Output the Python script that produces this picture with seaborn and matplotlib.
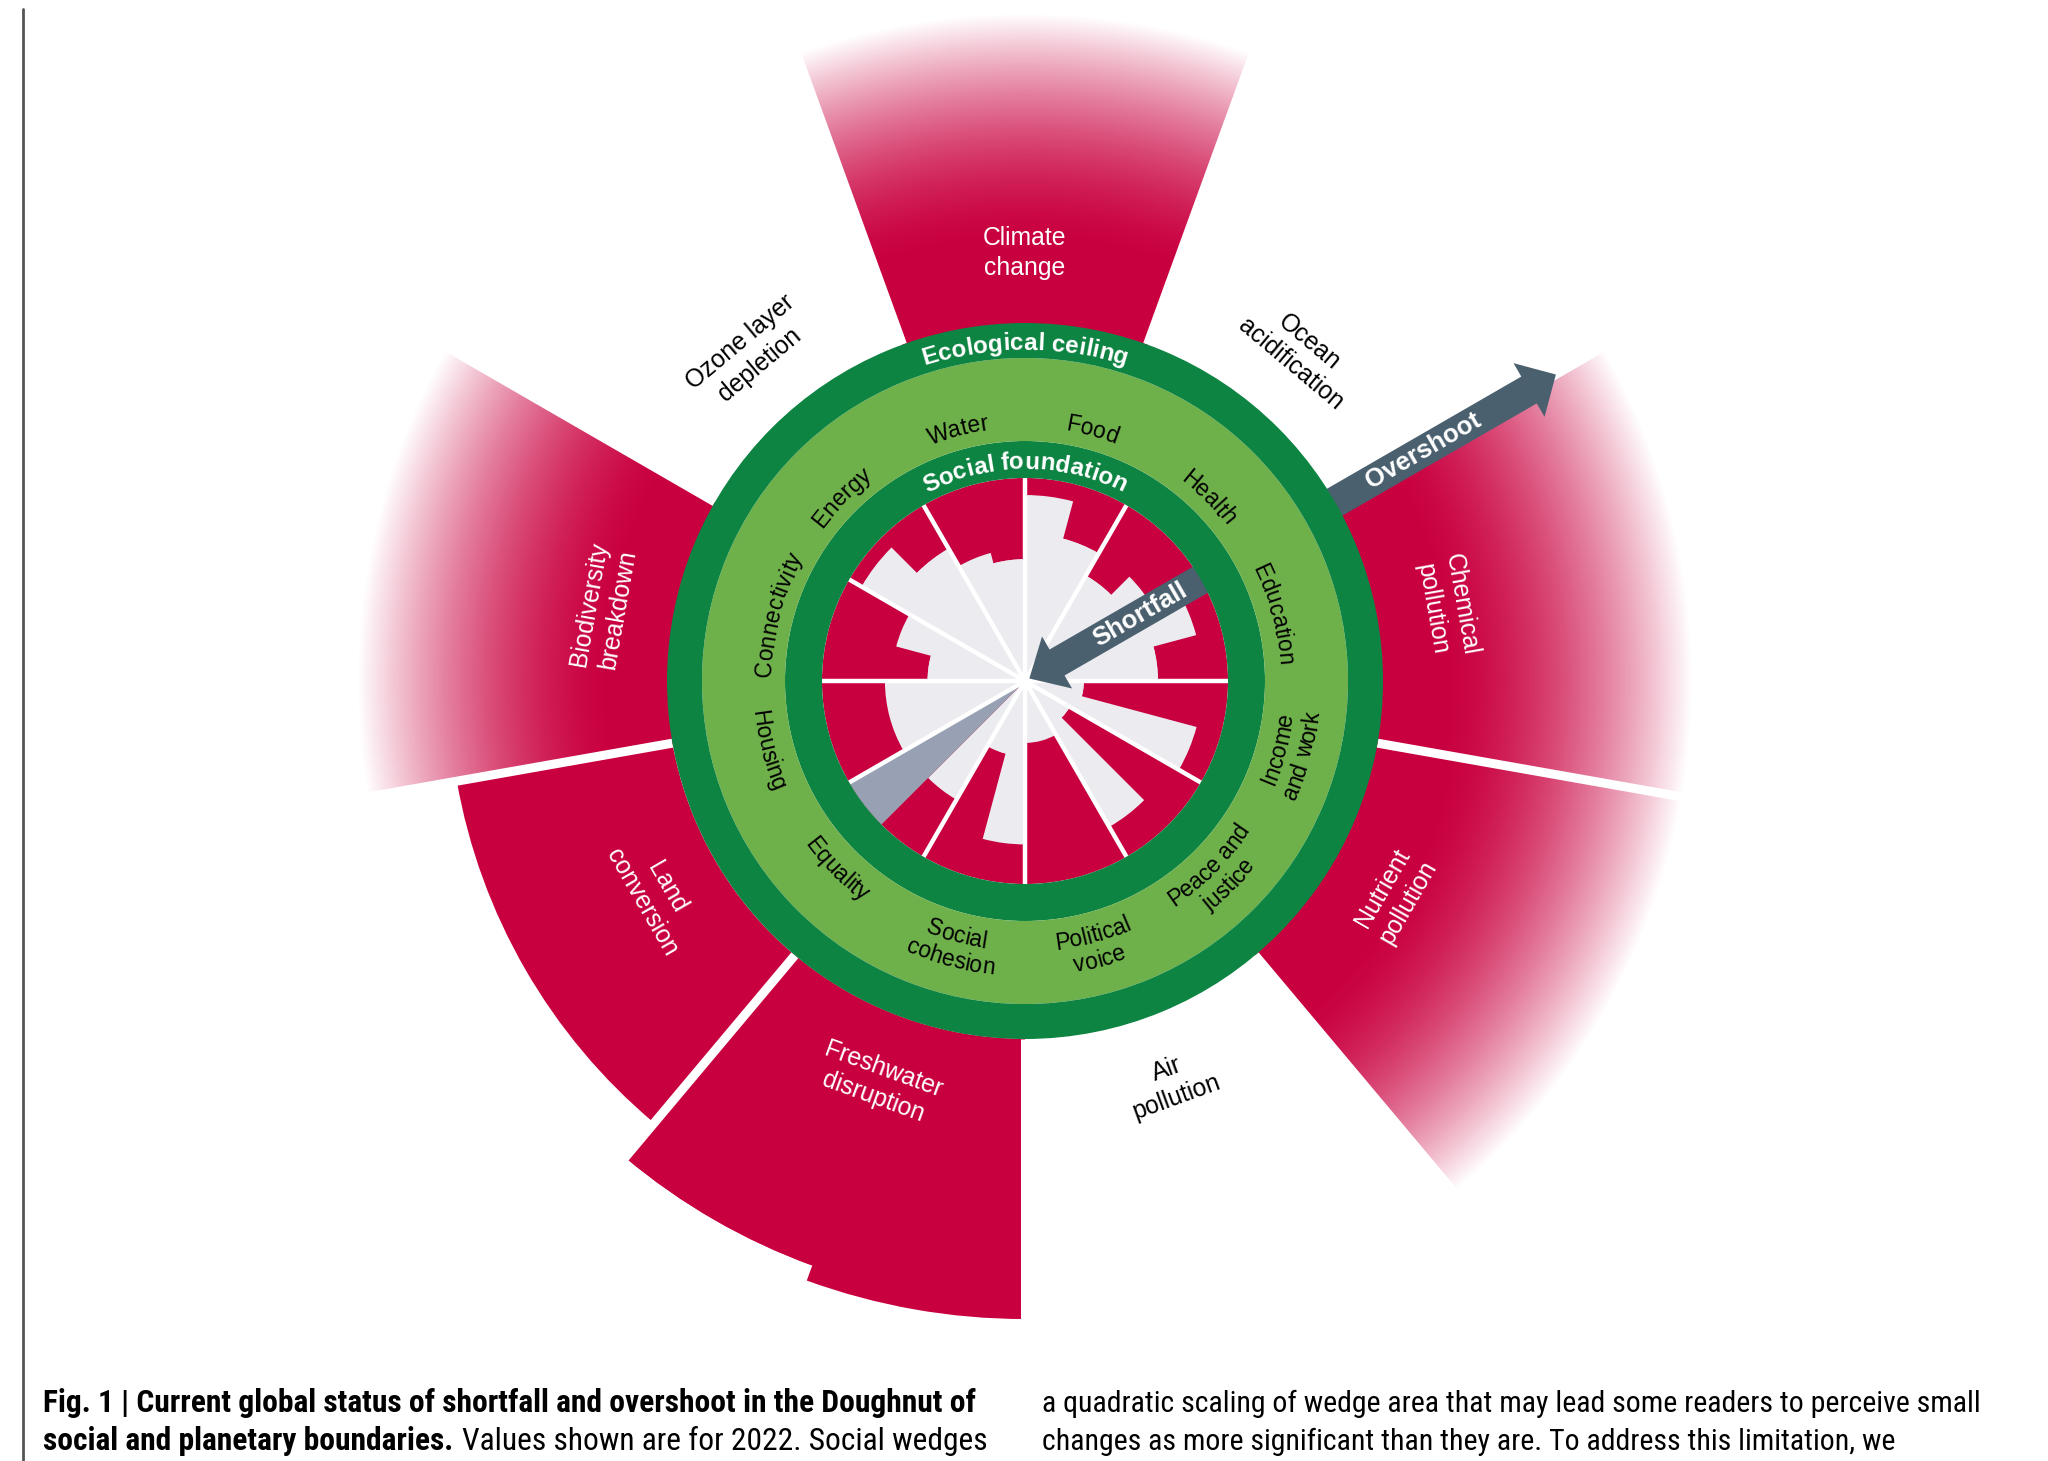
import numpy as np
import matplotlib
matplotlib.use("Agg")
import matplotlib.pyplot as plt
import seaborn as sns
from matplotlib.font_manager import FontProperties, findfont
from matplotlib.textpath import TextToPath
from matplotlib.patches import FancyArrow
from matplotlib.transforms import IdentityTransform
from matplotlib.lines import Line2D

# ---------------- data ----------------
social_dimensions = ["Food", "Health", "Education", "Income\nand work", "Peace and\njustice",
                     "Political\nvoice", "Social\ncohesion", "Equality", "Housing",
                     "Connectivity", "Energy", "Water"]
# achieved share of the social foundation per indicator (clockwise, NaN = no data)
social_achieved = [[0.916, 0.726], [0.600, 0.727], [0.873, 0.655], [0.290, 0.875],
                   [0.255, 0.830], [0.305], [0.805, 0.370], [0.675, np.nan], [0.690],
                   [0.480, 0.657], [0.930, 0.753], [0.653, 0.600]]

planetary_boundaries = ["Climate\nchange", "Ocean\nacidification", "Chemical\npollution",
                        "Nutrient\npollution", "Air\npollution", "Freshwater\ndisruption",
                        "Land\nconversion", "Biodiversity\nbreakdown", "Ozone layer\ndepletion"]
# outer radius of overshoot wedges (doughnut radius units, social foundation = 1)
overshoot_extent = [[2.17], [0.0], [2.07], [2.12], [0.0], [3.143, 3.064], [2.842], [2.05], [0.0]]
beyond_scale = [True, False, True, True, False, False, False, True, False]

caption_left = ["Fig. 1 | Current global status of shortfall and overshoot in the Doughnut of",
                "social and planetary boundaries.", " Values shown are for 2022. Social wedges"]
caption_right = ["a quadratic scaling of wedge area that may lead some readers to perceive small",
                 "changes as more significant than they are. To address this limitation, we"]

# ---------------- style ----------------
sns.set_theme(style="white")
FONT = "Liberation Sans"
plt.rcParams["font.family"] = [FONT, "DejaVu Sans"]

RED = "#c9003f"
GREY = "#ebebf0"
NODATA = "#98a1b3"
DARK_GREEN = "#0e8442"
LIGHT_GREEN = "#6eb04a"
ARROW = "#4b606f"

SOCIAL_FOUNDATION = 1.0
SF_RING_OUT = 240 / 203
CEILING_IN = 323 / 203
CEILING_OUT = 358 / 203
FADE_END = 668 / 203

DPI = 100
W, H = 2048, 1461
UNIT = 203.0
CX, CY = 1025, H - 681
RL = 680

fig = plt.figure(figsize=(W / DPI, H / DPI), dpi=DPI)
fig.patch.set_facecolor("white")
ax = fig.add_axes([(CX - RL) / W, (CY - RL) / H, 2 * RL / W, 2 * RL / H], projection="polar")
ax.set_theta_zero_location("N")
ax.set_theta_direction(-1)
ax.set_ylim(0, RL / UNIT)
ax.set_axis_off()

d2r = np.deg2rad
fade_pal = sns.blend_palette([RED, "#ffffff"], n_colors=256)

# ---------------- planetary overshoot ----------------
for k, (vals, off) in enumerate(zip(overshoot_extent, beyond_scale)):
    n = len(vals)
    w = 40.0 / n
    vmin = min(vals)
    if n > 1 and vmin > CEILING_OUT and not off:
        ax.bar(d2r(k * 40), vmin - CEILING_OUT, width=d2r(40), bottom=CEILING_OUT, color=RED, lw=0, zorder=1)
    for j, v in enumerate(vals):
        if v <= CEILING_OUT:
            continue
        c = d2r(k * 40 - 20 + w * (j + 0.5))
        if off:
            rs = np.linspace(FADE_END, v, 150)
            for r in rs:
                t = ((r - v) / (FADE_END - v)) ** 1.6
                col = fade_pal[int(round(t * 255))]
                ax.bar(c, r - CEILING_OUT, width=d2r(w), bottom=CEILING_OUT, color=col, lw=0, zorder=1)
        else:
            ax.bar(c, v - CEILING_OUT, width=d2r(w), bottom=CEILING_OUT, color=RED, lw=0, zorder=1)

for b in range(9):
    th = d2r(20 + 40 * b)
    ax.plot([th, th], [CEILING_OUT, RL / UNIT], color="white", lw=6.5, solid_capstyle="butt", zorder=1.5)

# ---------------- social shortfall ----------------
for i, vals in enumerate(social_achieved):
    start = i * 30
    ax.bar(d2r(start + 15), SOCIAL_FOUNDATION, width=d2r(30), bottom=0, color=RED, lw=0, zorder=1)
    n = len(vals)
    w = 30.0 / n
    finite = [v for v in vals if not np.isnan(v)]
    if n > 1 and len(finite) == n:
        ax.bar(d2r(start + 15), min(finite), width=d2r(30), bottom=0, color=GREY, lw=0, zorder=1)
    for j, v in enumerate(vals):
        c = d2r(start + w * (j + 0.5))
        if np.isnan(v):
            ax.bar(c, SOCIAL_FOUNDATION, width=d2r(w), bottom=0, color=NODATA, lw=0, zorder=1)
        else:
            ax.bar(c, v, width=d2r(w), bottom=0, color=GREY, lw=0, zorder=1)

for i in range(12):
    th = d2r(i * 30)
    ax.plot([th, th], [0, SOCIAL_FOUNDATION], color="white", lw=3.2, solid_capstyle="butt", zorder=1.5)

# ---------------- arrows (pixel geometry from polar position) ----------------
PHI_ARROW = 60.0
ux, uy = np.sin(d2r(PHI_ARROW)), np.cos(d2r(PHI_ARROW))


def radial_arrow(r0, r1, width, head_w, head_l):
    x0, y0 = CX + r0 * ux, CY + r0 * uy
    x1, y1 = CX + r1 * ux, CY + r1 * uy
    a = FancyArrow(x0, y0, x1 - x0, y1 - y0, width=width, head_width=head_w, head_length=head_l,
                   length_includes_head=True, color=ARROW, lw=0, transform=IdentityTransform(), zorder=2)
    ax.add_patch(a)


radial_arrow(340, 613, 31, 62, 31)
radial_arrow(215, 5, 30, 60, 32)

# ---------------- rings ----------------
ax.bar(0, SF_RING_OUT - SOCIAL_FOUNDATION, width=2 * np.pi, bottom=SOCIAL_FOUNDATION, color=DARK_GREEN, lw=0, zorder=3)
ax.bar(0, CEILING_IN - SF_RING_OUT, width=2 * np.pi, bottom=SF_RING_OUT, color=LIGHT_GREEN, lw=0, zorder=3)
ax.bar(0, CEILING_OUT - CEILING_IN, width=2 * np.pi, bottom=CEILING_IN, color=DARK_GREEN, lw=0, zorder=3)

th60 = d2r(PHI_ARROW)
ax.text(th60, 460 / UNIT, "Overshoot", rotation=90 - PHI_ARROW, rotation_mode="anchor", ha="center", va="center",
        fontsize=18.5, fontweight="bold", color="white", family=FONT, zorder=6)
ax.text(th60, 133 / UNIT, "Shortfall", rotation=90 - PHI_ARROW, rotation_mode="anchor", ha="center", va="center",
        fontsize=18.5, fontweight="bold", color="white", family=FONT, zorder=6)

# ---------------- curved text ----------------
ttp = TextToPath()


def wpx(s, prop):
    w, h, d = ttp.get_text_width_height_descent(s, prop, ismath=False)
    return w * DPI / 72.0


def curved(s, phi0, r_mid, size, weight="normal", color="black", outward=True):
    prop = FontProperties(family=FONT, weight=weight, size=size)
    em = size * DPI / 72.0
    total = wpx(s, prop)
    if outward:
        rb = r_mid - 0.36 * em
        sign = 1
    else:
        rb = r_mid + 0.36 * em
        sign = -1
    for i, ch in enumerate(s):
        if ch == " ":
            continue
        cpos = wpx(s[:i + 1], prop) - wpx(ch, prop) / 2
        off = cpos - total / 2
        phi = phi0 + sign * np.degrees(off / rb)
        rot = -phi if outward else 180 - phi
        ax.text(d2r(phi), rb / UNIT, ch, rotation=rot, rotation_mode="anchor", ha="center",
                va="baseline", fontproperties=prop, color=color, zorder=6)


curved("Ecological ceiling", 0, 340, 17.5, weight="bold", color="white", outward=True)
curved("Social foundation", 0, 221, 17.5, weight="bold", color="white", outward=True)

for i, lab in enumerate(social_dimensions):
    phi = i * 30 + 15
    top = phi < 90 or phi > 270
    lines = lab.split("\n")
    if top:
        curved(lines[0], phi, 262, 16.5, outward=True)
    else:
        if len(lines) == 1:
            curved(lines[0], phi, 266, 16.5, outward=False)
        else:
            curved(lines[0], phi, 262, 16.5, outward=False)
            curved(lines[1], phi, 287, 16.5, outward=False)

# ---------------- planetary labels ----------------
for k, lab in enumerate(planetary_boundaries):
    phi = k * 40
    top = phi <= 90 or phi >= 270
    rot = -phi if top else 180 - phi
    filled = max(overshoot_extent[k]) > CEILING_OUT
    ax.text(d2r(phi), 428 / UNIT, lab, rotation=rot, rotation_mode="anchor", ha="center",
            va="center", multialignment="center", linespacing=1.3, fontsize=17.8,
            color="white" if filled else "black", family=FONT, zorder=6)

# ---------------- caption ----------------
fig.add_artist(Line2D([23 / W, 23 / W], [0, (H - 9) / H], transform=fig.transFigure,
                      color="#555555", lw=2))


def pick(fams):
    for f in fams:
        try:
            findfont(FontProperties(family=f), fallback_to_default=False)
            return f
        except Exception:
            pass
    return FONT


CAP = pick(["Liberation Sans Narrow", "Roboto Condensed", "Open Sans Condensed", "DejaVu Sans Condensed", FONT])
base = 20.0
s_left = min(24.0, base * 934 / wpx(caption_left[0], FontProperties(family=CAP, weight="bold", size=base)))
s_right = min(24.0, base * 941 / wpx(caption_right[0], FontProperties(family=CAP, weight="normal", size=base)))
pbl = FontProperties(family=CAP, weight="bold", size=s_left)
prl = FontProperties(family=CAP, weight="normal", size=s_left)
prr = FontProperties(family=CAP, weight="normal", size=s_right)
y1 = (H - 1412) / H
y2 = (H - 1450) / H
fig.text(43 / W, y1, caption_left[0], fontproperties=pbl, color="black", va="baseline", ha="left")
fig.text(43 / W, y2, caption_left[1], fontproperties=pbl, color="black", va="baseline", ha="left")
gap = 0.24 * s_left * DPI / 72
xb = 43 + wpx(caption_left[1], pbl) + gap
fig.text(xb / W, y2, caption_left[2].strip(), fontproperties=prl, color="black", va="baseline", ha="left")
fig.text(1042 / W, y1, caption_right[0], fontproperties=prr, color="black", va="baseline", ha="left")
fig.text(1042 / W, y2, caption_right[1], fontproperties=prr, color="black", va="baseline", ha="left")

fig.savefig("out.png", dpi=DPI, facecolor="white")
